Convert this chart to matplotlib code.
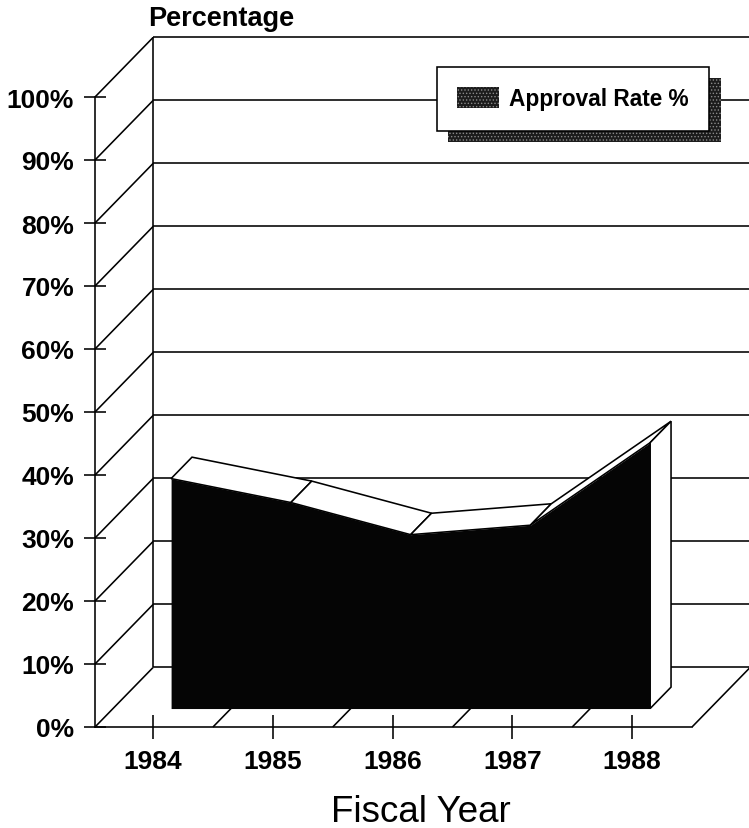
import numpy as np
import matplotlib
matplotlib.use("Agg")
import matplotlib.pyplot as plt
from matplotlib.patches import Patch, Polygon

plt.rcParams['font.family'] = ['Liberation Sans', 'DejaVu Sans']
plt.rcParams['hatch.linewidth'] = 0.6

years = [1984, 1985, 1986, 1987, 1988]
approval = [36.5, 32.7, 27.6, 29.1, 42.2]
pct_ticks = [0, 10, 20, 30, 40, 50, 60, 70, 80, 90, 100]
pct_labels = ['0%', '10%', '20%', '30%', '40%', '50%', '60%', '70%', '80%', '90%', '100%']
floor_lines = [1983.515, 1984.5, 1985.5, 1986.5, 1987.5, 1988.5]

# depth of the fake 3d box, in data units
DX = 0.485
DY = 9.45
FRONT = 0.31  # where the area's front face sits in the box
THICK = 0.36  # how deep the area is
LW = 1.15

W, H = 749, 829
fig = plt.figure(figsize=(W / 100, H / 100), dpi=100, facecolor='white')
ax = fig.add_axes([95 / W, 1 - 728 / H, (692 - 95) / W, (728 - 98) / H])
ax.set_xlim(floor_lines[0], floor_lines[-1])
ax.set_ylim(0, 100)
ax.patch.set_visible(False)

for s in ['top', 'right']:
    ax.spines[s].set_visible(False)
for s in ['left', 'bottom']:
    ax.spines[s].set_linewidth(LW)
    ax.spines[s].set_zorder(6)

ax.set_xticks(years)
ax.set_xticklabels([str(y) for y in years], fontsize=19, fontweight='bold')
ax.set_yticks(pct_ticks)
ax.set_yticklabels(pct_labels, fontsize=19, fontweight='bold')
ax.tick_params(axis='x', direction='inout', length=17, width=LW, pad=7)
ax.tick_params(axis='y', direction='inout', length=16, width=LW, pad=7)

x0, x1 = floor_lines[0], floor_lines[-1]
line = dict(color='black', lw=LW, clip_on=False, solid_capstyle='butt')

# back wall, side wall and floor
for p in pct_ticks:
    ax.plot([x0, x0 + DX], [p, p + DY], zorder=1, **line)
    ax.plot([x0 + DX, x1 + DX], [p + DY, p + DY], zorder=1, **line)
ax.plot([x0 + DX, x0 + DX], [DY, 100 + DY], zorder=1, **line)
for f in floor_lines[1:]:
    ax.plot([f, f + DX], [0, DY], zorder=1, **line)

# area with its depth
xs = np.array(years) + DX * FRONT
ys = np.array(approval) + DY * FRONT
base = DY * FRONT
ddx, ddy = DX * THICK, DY * THICK
for i in range(len(xs) - 1):
    quad = [(xs[i], ys[i]), (xs[i + 1], ys[i + 1]),
            (xs[i + 1] + ddx, ys[i + 1] + ddy), (xs[i] + ddx, ys[i] + ddy)]
    ax.add_patch(Polygon(quad, fc='white', ec='black', lw=LW, zorder=3, clip_on=False))
side = [(xs[-1], base), (xs[-1] + ddx, base + ddy),
        (xs[-1] + ddx, ys[-1] + ddy), (xs[-1], ys[-1])]
ax.add_patch(Polygon(side, fc='white', ec='black', lw=LW, zorder=3, clip_on=False))
ax.fill_between(xs, base, ys, color='#050505', lw=0, zorder=4)

handle = Patch(fc='#1c1c1c', ec='#8a8a8a', hatch='.....', lw=0, label='Approval Rate %')
leg = ax.legend(handles=[handle], loc='upper left', bbox_to_anchor=(437 / W, 1 - 68 / H),
                bbox_transform=fig.transFigure, fancybox=False, framealpha=1,
                edgecolor='black', borderaxespad=0, borderpad=0.9, handlelength=1.85,
                handleheight=1.0, handletextpad=0.45, labelspacing=0,
                prop={'size': 16.3, 'weight': 'bold'},
                shadow={'ox': 8, 'oy': -8, 'fc': '#1c1c1c', 'ec': '#8a8a8a', 'hatch': '.....',
                        'lw': 0, 'alpha': 1})
leg.set_zorder(7)
leg.get_frame().set_linewidth(LW)

fig.text(148 / W, 1 - 19 / H, 'Percentage', fontsize=19.5, fontweight='bold', va='center', ha='left')
fig.text(421 / W, 1 - 813 / H, 'Fiscal Year', fontsize=26.5, va='center', ha='center')

fig.savefig('out.png', dpi=100)
